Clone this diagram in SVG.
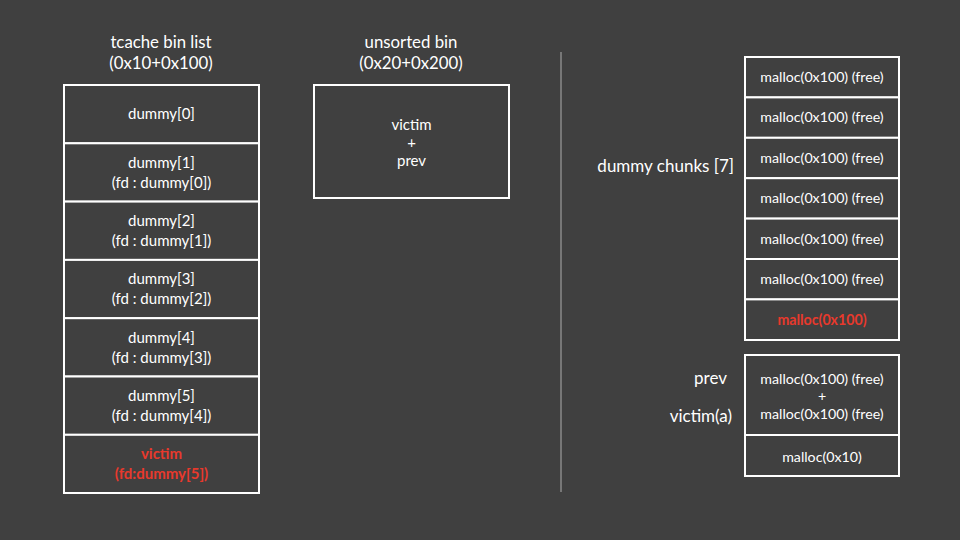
<svg xmlns="http://www.w3.org/2000/svg" width="960" height="540" viewBox="0 0 960 540">
<style>
.bg{fill:#404040}
.box{fill:#404040;stroke:#ffffff;stroke-width:2}
.t{font-family:Lato,"Open Sans","Liberation Sans",sans-serif;fill:#ffffff;text-anchor:middle}
.s{font-size:15px}
.m{font-size:14.2px}
.h{font-size:16.8px}
.l{font-size:17px;text-anchor:end}
.r{fill:#e8392c;font-weight:bold}
</style>
<rect class="bg" x="0" y="0" width="960" height="540"/>
<g id="titles">
<text class="t h" x="161" y="48">tcache bin list</text>
<text class="t h" x="161" y="69">(0x10+0x100)</text>
<text class="t h" x="411" y="48">unsorted bin</text>
<text class="t h" x="411" y="69">(0x20+0x200)</text>
</g>
<g id="divider"><line x1="561" y1="52" x2="561" y2="492" stroke="#8a8a8a" stroke-width="1.5"/></g>
<g id="tcache">
<g id="t0"><rect class="box" x="64" y="85" width="195" height="58.3"/><text class="t s" x="161.5" y="119">dummy[0]</text></g>
<g id="t1"><rect class="box" x="64" y="143.3" width="195" height="58.3"/><text class="t s" x="161.5" y="168">dummy[1]</text><text class="t s" x="161.5" y="188">(fd : dummy[0])</text></g>
<g id="t2"><rect class="box" x="64" y="201.6" width="195" height="58.3"/><text class="t s" x="161.5" y="226">dummy[2]</text><text class="t s" x="161.5" y="246">(fd : dummy[1])</text></g>
<g id="t3"><rect class="box" x="64" y="259.9" width="195" height="58.3"/><text class="t s" x="161.5" y="284">dummy[3]</text><text class="t s" x="161.5" y="304">(fd : dummy[2])</text></g>
<g id="t4"><rect class="box" x="64" y="318.2" width="195" height="58.3"/><text class="t s" x="161.5" y="343">dummy[4]</text><text class="t s" x="161.5" y="363">(fd : dummy[3])</text></g>
<g id="t5"><rect class="box" x="64" y="376.5" width="195" height="58.3"/><text class="t s" x="161.5" y="401">dummy[5]</text><text class="t s" x="161.5" y="421">(fd : dummy[4])</text></g>
<g id="t6"><rect class="box" x="64" y="434.8" width="195" height="58.2"/><text class="t s r" x="161.5" y="459">victim</text><text class="t s r" x="161.5" y="479">(fd:dummy[5])</text></g>
</g>
<g id="unsorted"><rect class="box" x="314" y="85" width="195" height="113"/><text class="t s" x="411.5" y="130">victim</text><text class="t s" x="411.5" y="148">+</text><text class="t s" x="411.5" y="166">prev</text></g>
<g id="labels">
<text class="t l" x="734" y="172">dummy chunks [7]</text>
<text class="t l" x="727" y="384">prev</text>
<text class="t l" x="732" y="422">victim(a)</text>
</g>
<g id="chunks">
<g id="c0"><rect class="box" x="745" y="57" width="154" height="40.4"/><text class="t m" x="822" y="82">malloc(0x100) (free)</text></g>
<g id="c1"><rect class="box" x="745" y="97.4" width="154" height="40.4"/><text class="t m" x="822" y="122">malloc(0x100) (free)</text></g>
<g id="c2"><rect class="box" x="745" y="137.8" width="154" height="40.4"/><text class="t m" x="822" y="163">malloc(0x100) (free)</text></g>
<g id="c3"><rect class="box" x="745" y="178.2" width="154" height="40.4"/><text class="t m" x="822" y="203">malloc(0x100) (free)</text></g>
<g id="c4"><rect class="box" x="745" y="218.6" width="154" height="40.4"/><text class="t m" x="822" y="244">malloc(0x100) (free)</text></g>
<g id="c5"><rect class="box" x="745" y="259" width="154" height="40.4"/><text class="t m" x="822" y="284">malloc(0x100) (free)</text></g>
<g id="c6"><rect class="box" x="745" y="299.4" width="154" height="40.6"/><text class="t m r" x="822" y="325">malloc(0x100)</text></g>
<g id="c7"><rect class="box" x="745" y="355" width="154" height="80"/><text class="t m" x="822" y="384">malloc(0x100) (free)</text><text class="t m" x="822" y="401">+</text><text class="t m" x="822" y="419">malloc(0x100) (free)</text></g>
<g id="c8"><rect class="box" x="745" y="435" width="154" height="41"/><text class="t m" x="822" y="462">malloc(0x10)</text></g>
</g>
</svg>
